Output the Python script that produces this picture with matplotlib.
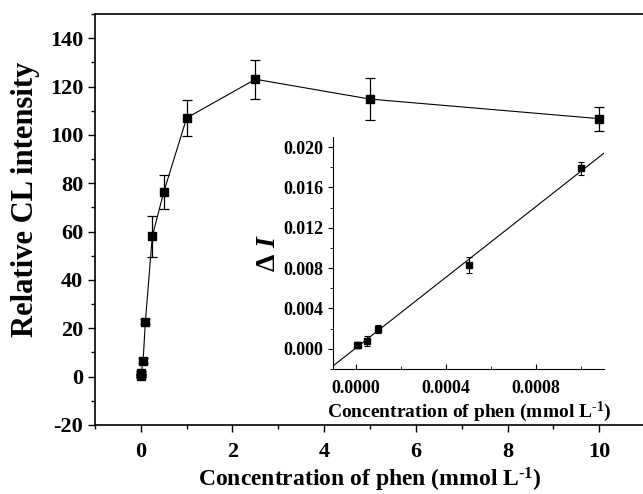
import matplotlib
matplotlib.use('Agg')
import matplotlib.pyplot as plt
from matplotlib.ticker import MultipleLocator, FormatStrFormatter
import numpy as np

# main curve: relative CL intensity vs phen concentration (mmol/L)
conc = [0.001, 0.005, 0.01, 0.05, 0.1, 0.25, 0.5, 1.0, 2.5, 5.0, 10.0]
intensity = [0.2, 0.6, 1.6, 6.6, 22.8, 58.0, 76.3, 107.0, 123.0, 114.8, 106.7]
intensity_err = [0.5, 0.6, 0.8, 1.0, 1.2, 8.5, 7.0, 7.5, 8.0, 8.7, 5.0]

# inset: delta I vs low phen concentration
conc_low = [0.000005, 0.00001, 0.00005, 0.0001, 0.0005, 0.001]
delta_i = [0.00035, 0.00042, 0.00079, 0.00194, 0.00834, 0.0179]
delta_i_err = [0.0002, 0.0002, 0.0005, 0.0004, 0.0008, 0.00066]

plt.rcParams['font.family'] = ['Liberation Serif', 'DejaVu Serif']
plt.rcParams['font.weight'] = 'bold'
plt.rcParams['axes.unicode_minus'] = False
plt.rcParams['mathtext.fontset'] = 'custom'
plt.rcParams['mathtext.rm'] = 'Liberation Serif:bold'
plt.rcParams['mathtext.it'] = 'Liberation Serif:bold:italic'
plt.rcParams['mathtext.bf'] = 'Liberation Serif:bold'

fig = plt.figure(figsize=(6.43, 4.94), dpi=100)
ax = fig.add_axes([0.1477, 0.1397, 0.8555, 0.832])

ax.errorbar(conc, intensity, yerr=intensity_err, fmt='s-', color='black',
            markersize=5.5, linewidth=0.8, elinewidth=0.9, capsize=3.5,
            capthick=0.9)
ax.set_xlim(-1, 11)
ax.set_ylim(-20, 150)
ax.xaxis.set_major_locator(MultipleLocator(2))
ax.xaxis.set_minor_locator(MultipleLocator(1))
ax.yaxis.set_major_locator(MultipleLocator(20))
ax.yaxis.set_minor_locator(MultipleLocator(10))
ax.tick_params(which='both', direction='out', width=1.0, labelsize=16)
ax.tick_params(which='major', length=5)
ax.tick_params(which='minor', length=3)
ax.tick_params(axis='x', pad=7)
ax.spines['right'].set_visible(False)
for s in ['left', 'bottom', 'top']:
    ax.spines[s].set_linewidth(1.2)
ax.set_ylabel('Relative CL intensity', fontsize=22, fontweight='bold')
ax.yaxis.set_label_coords(-0.1, 0.55)
ax.set_xlabel(r'Concentration of phen (mmol L$^{\text{-1}}$)', fontsize=17,
              fontweight='bold', labelpad=3)

# inset
ins = fig.add_axes([0.5184, 0.253, 0.4209, 0.4697])
fit = np.polyfit(conc_low, delta_i, 1)
xfit = np.array([-0.0001, 0.0011])
ins.plot(xfit, np.polyval(fit, xfit), color='black', linewidth=0.8)
ins.errorbar(conc_low, delta_i, yerr=delta_i_err, fmt='s', color='black',
             markersize=4.5, elinewidth=0.8, capsize=2.5, capthick=0.8)
ins.set_xlim(-0.0001, 0.0011)
ins.set_ylim(-0.002, 0.021)
ins.xaxis.set_major_locator(MultipleLocator(0.0004))
ins.xaxis.set_minor_locator(MultipleLocator(0.0002))
ins.yaxis.set_major_locator(MultipleLocator(0.004))
ins.yaxis.set_minor_locator(MultipleLocator(0.002))
ins.xaxis.set_major_formatter(FormatStrFormatter('%.4f'))
ins.yaxis.set_major_formatter(FormatStrFormatter('%.3f'))
ins.tick_params(axis='x', which='both', direction='in', labelsize=13, pad=8)
ins.tick_params(axis='y', which='both', direction='out', labelsize=13)
ins.tick_params(which='major', length=3.5)
ins.tick_params(which='minor', length=2)
ins.spines['right'].set_visible(False)
ins.spines['top'].set_visible(False)
ins.set_facecolor('none')
ins.set_xlabel(r'Concentration of phen (mmol L$^{\text{-1}}$)', fontsize=14,
               fontweight='bold', labelpad=2)
ins.set_ylabel(r'$\Delta$ $\mathit{I}$', fontsize=20, labelpad=2)

fig.savefig('out.png', dpi=100)
